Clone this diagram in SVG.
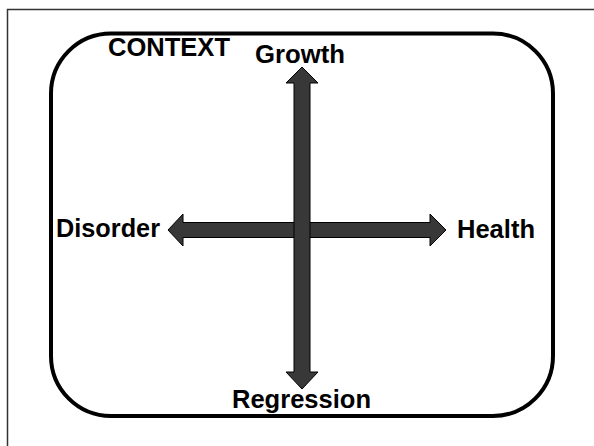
<svg xmlns="http://www.w3.org/2000/svg" width="594" height="446" viewBox="0 0 594 446">
<style>
.lbl{font-family:"Liberation Sans",Arial,sans-serif;font-weight:bold;font-size:25.5px;fill:#000}
.arrow{fill:#383838;stroke:#000;stroke-width:1}
</style>
<rect x="0" y="0" width="594" height="446" fill="#fff"/>
<rect x="7.5" y="9.5" width="600" height="450" fill="none" stroke="#333" stroke-width="1.5"/>
<g id="context">
<rect x="51" y="33.5" width="502" height="382.5" rx="60" ry="60" fill="none" stroke="#000" stroke-width="4"/>
<text class="lbl" x="108" y="55.7" textLength="122" lengthAdjust="spacingAndGlyphs">CONTEXT</text>
</g>
<g id="connectors">
<polygon class="arrow" points="168,230 183,214 183,222.5 430,222.5 430,214 446,230 430,246 430,237.5 183,237.5 183,246"/>
<polygon class="arrow" points="302,67 318,83 310,83 310,372 318,372 302,389 286,372 294,372 294,83 286,83"/>
</g>
<g id="growth"><text class="lbl" x="300" y="62.5" text-anchor="middle" textLength="90" lengthAdjust="spacingAndGlyphs">Growth</text></g>
<g id="regression"><text class="lbl" x="301.5" y="408" text-anchor="middle" textLength="139" lengthAdjust="spacingAndGlyphs">Regression</text></g>
<g id="disorder"><text class="lbl" x="56" y="236.5" textLength="104" lengthAdjust="spacingAndGlyphs">Disorder</text></g>
<g id="health"><text class="lbl" x="457" y="238" textLength="78" lengthAdjust="spacingAndGlyphs">Health</text></g>
</svg>
